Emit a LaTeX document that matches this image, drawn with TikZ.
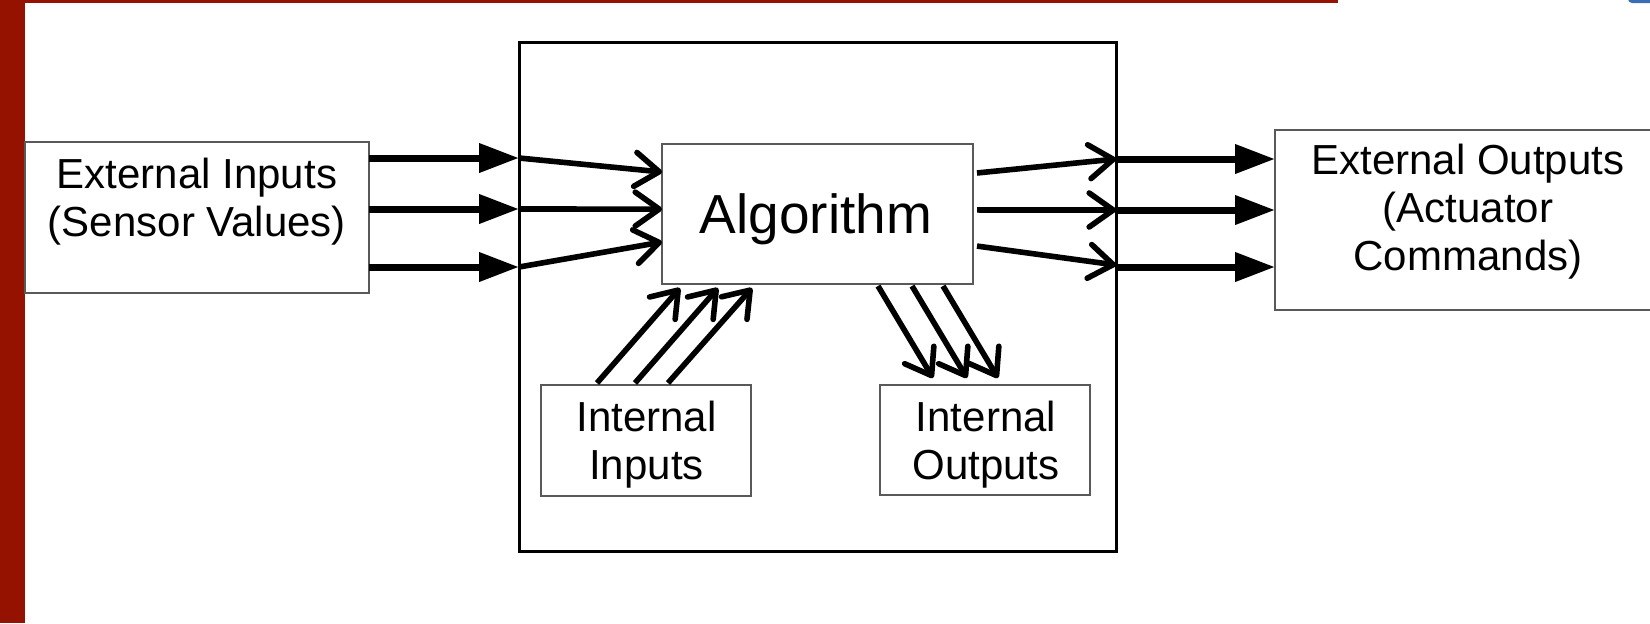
\documentclass[tikz,border=0pt]{standalone}
\usepackage{fontspec}
\setmainfont{Liberation Sans}
\usetikzlibrary{arrows.meta,calc}
\definecolor{barred}{RGB}{150,18,0}
\definecolor{tabblue}{RGB}{58,110,180}
\begin{document}
\begin{tikzpicture}[x=0.5pt,y=-0.5pt]
\tikzstyle{every node}+=[inner sep=0pt,outer sep=0pt]
\tikzstyle{box}=[draw=black!65,line width=1pt,fill=white]
\tikzstyle{lbl}=[anchor=base,align=center,font=\fontsize{21}{24}\selectfont]
\tikzstyle{bigarrow}=[line width=3.5pt,-{Triangle[length=20pt,width=14pt]}]
\tikzstyle{openarrow}=[line width=2.8pt,-{Straight Barb[length=12pt,width=17pt,round]}]
\clip (0,0) rectangle (1650,623);
\fill [white] (0,0) rectangle (1650,623);
\fill [barred] (0,0) rectangle (25,623);
\fill [barred] (0,0) rectangle (1338,2.5);
\fill [tabblue,rounded corners=2pt] (1628,-4) rectangle (1660,3);
\node [draw=black,line width=1.5pt,minimum width=298.5pt,minimum height=254.5pt] (system) at (817.5,296.5) {};
\node [box,minimum width=172pt,minimum height=75.5pt] (extin) at (197,217.5) {};
\node [box,minimum width=155.5pt,minimum height=70pt] (algo) at (817.5,214) {};
\node [box,minimum width=105pt,minimum height=55.5pt] (intin) at (646,440.5) {};
\node [box,minimum width=105pt,minimum height=55pt] (intout) at (985,440) {};
\node [box,minimum width=192.5pt,minimum height=90pt] (extout) at (1467.5,220) {};
\node [lbl] (extintext) at (197,236) {External Inputs\\(Sensor Values)};
\node [lbl,font=\fontsize{27.5}{33}\selectfont] (algotext) at (816,233) {Algorithm};
\node [lbl] (intintext) at (646.5,479) {Internal\\Inputs};
\node [lbl] (intouttext) at (986,479) {Internal\\Outputs};
\node [lbl] (extouttext) at (1468,270) {External Outputs\\(Actuator\\Commands)};
\coordinate (sl1) at (system.west |- 0,158);
\coordinate (sl2) at (system.west |- 0,209);
\coordinate (sl3) at (system.west |- 0,267);
\coordinate (sr1) at (system.east |- 0,159);
\coordinate (sr2) at (system.east |- 0,210);
\coordinate (sr3) at (system.east |- 0,265);
\draw [bigarrow] (extin.east |- sl1) -- (sl1);
\draw [bigarrow] (extin.east |- sl2) -- (sl2);
\draw [bigarrow] (extin.east |- sl3) -- (sl3);
\draw [openarrow] (sl1) -- ($(algo.north west)!0.2!(algo.south west)$);
\draw [openarrow] (sl2) -- ($(algo.north west)!0.465!(algo.south west)$);
\draw [openarrow] (sl3) -- ($(algo.north west)!0.7!(algo.south west)$);
\draw [openarrow] ($(algo.north east)!0.207!(algo.south east)+(4,0)$) -- (sr1);
\draw [openarrow] ($(algo.north east)!0.471!(algo.south east)+(4,0)$) -- (sr2);
\draw [openarrow] ($(algo.north east)!0.729!(algo.south east)+(4,0)$) -- (sr3);
\draw [bigarrow] (sr1) -- (extout.west |- sr1);
\draw [bigarrow] (sr2) -- (extout.west |- sr2);
\draw [bigarrow] (sr3 |- 0,267) -- (extout.west |- 0,267);
\draw [openarrow] ($(intin.north west)+(56,-2)$) -- ($(algo.south west)+(18,4)$);
\draw [openarrow] ($(intin.north west)+(94,-2)$) -- ($(algo.south west)+(56,4)$);
\draw [openarrow] ($(intin.north west)+(127,-2)$) -- ($(algo.south west)+(90,4)$);
\draw [openarrow] ($(algo.south west)+(216,2)$) -- ($(intout.north west)+(53,-7)$);
\draw [openarrow] ($(algo.south west)+(250,2)$) -- ($(intout.north west)+(87,-7)$);
\draw [openarrow] ($(algo.south west)+(281,2)$) -- ($(intout.north west)+(118,-7)$);
\end{tikzpicture}
\end{document}
